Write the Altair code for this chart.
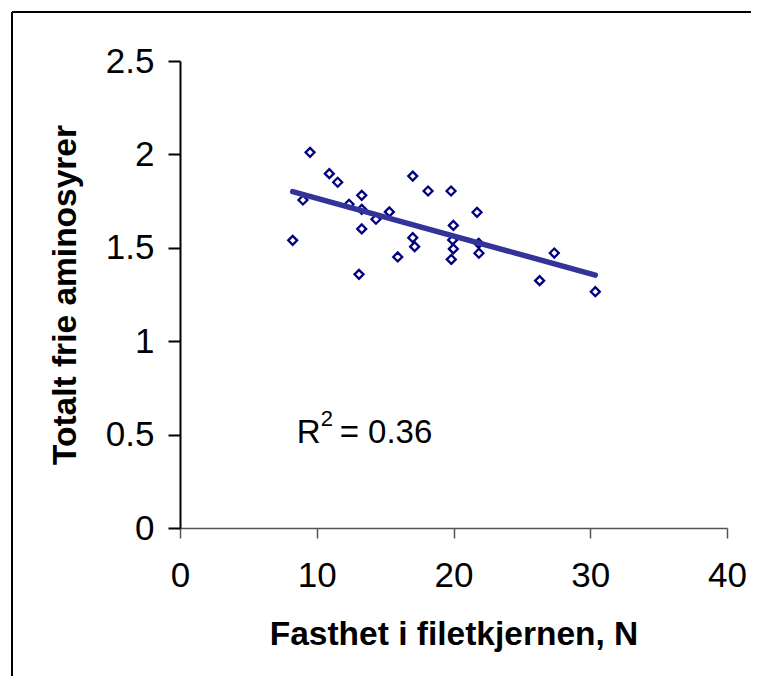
import altair as alt
import pandas as pd

# Firmness (N) and total free amino acids
fasthet = [9.51, 10.92, 11.53, 8.99, 8.24, 13.29, 12.36, 13.29, 14.33, 15.31,
           13.29, 13.09, 15.92, 17.02, 18.14, 19.82, 19.99, 17.02, 17.16, 19.94,
           19.99, 19.84, 21.72, 21.86, 21.84, 27.37, 26.30, 30.37]
aminosyrer = [2.011, 1.897, 1.851, 1.756, 1.540, 1.781, 1.733, 1.706, 1.653, 1.692,
              1.601, 1.358, 1.451, 1.884, 1.804, 1.804, 1.620, 1.554, 1.506, 1.542,
              1.494, 1.438, 1.690, 1.471, 1.524, 1.472, 1.324, 1.265]
x_ticks = [0, 10, 20, 30, 40]
y_ticks = [0, 0.5, 1, 1.5, 2, 2.5]
r2_text = ["R", "2", "= 0.36"]

df = pd.DataFrame({"x": fasthet, "y": aminosyrer})

xs = alt.Scale(domain=[0, 40], nice=False, zero=False)
ys = alt.Scale(domain=[0, 2.5], nice=False, zero=False)

x_axis = alt.Axis(values=x_ticks, title="Fasthet i filetkjernen, N", grid=False,
                  format="~g",
                  domainColor="#555555", domainWidth=1.5, tickColor="#555555",
                  tickWidth=1.5, tickSize=10, labelPadding=20, labelFontSize=35,
                  labelColor="black", titleFontSize=33.5, titleFontWeight="bold",
                  titleColor="black", titlePadding=25, labelFlush=False)
y_axis = alt.Axis(values=y_ticks, title="Totalt frie aminosyrer", grid=False,
                  format="~g",
                  domainColor="black", domainWidth=2, tickColor="black",
                  tickWidth=2, tickSize=12, labelPadding=14, labelFontSize=35,
                  labelColor="black", titleFontSize=33.5, titleFontWeight="bold",
                  titleColor="black", titleX=-105, titleY=233.5,
                  titleBaseline="alphabetic", titleAngle=-90, labelFlush=False)

points = alt.Chart(df).mark_point(shape="diamond", filled=False, color="#000080",
                                  size=80, strokeWidth=2.3, opacity=1).encode(
    x=alt.X("x:Q", scale=xs, axis=x_axis),
    y=alt.Y("y:Q", scale=ys, axis=y_axis),
)

line = alt.Chart(df).transform_regression("x", "y").mark_line(
    color="#333399", strokeWidth=5.5, strokeCap="round").encode(
    x=alt.X("x:Q", scale=xs), y=alt.Y("y:Q", scale=ys))

tdf = pd.DataFrame({"x": [8.53], "y": [0.453]})
t_r = alt.Chart(tdf).mark_text(text=r2_text[0], fontSize=33, align="left",
                               baseline="alphabetic", color="black").encode(
    x=alt.X("x:Q", scale=xs), y=alt.Y("y:Q", scale=ys))
t_2 = alt.Chart(tdf).mark_text(text=r2_text[1], fontSize=22, align="left",
                               baseline="alphabetic", color="black", dx=24, dy=-17).encode(
    x=alt.X("x:Q", scale=xs), y=alt.Y("y:Q", scale=ys))
t_eq = alt.Chart(tdf).mark_text(text=r2_text[2], fontSize=33, align="left",
                                baseline="alphabetic", color="black", dx=43).encode(
    x=alt.X("x:Q", scale=xs), y=alt.Y("y:Q", scale=ys))

frame = alt.Data(values=[{"a": 1}])
border_top = alt.Chart(frame).mark_rule(color="black", strokeWidth=2).encode(
    x=alt.value(-168), x2=alt.value(571), y=alt.value(-49))
border_left = alt.Chart(frame).mark_rule(color="black", strokeWidth=2).encode(
    x=alt.value(-168), y=alt.value(-49), y2=alt.value(615))

chart = alt.layer(border_top, border_left, points, line, t_r, t_2, t_eq).properties(
    width=547, height=467,
    padding={"left": 172, "top": 53, "right": 24, "bottom": 148},
    autosize=alt.AutoSizeParams(type="none"),
).configure(font="Liberation Sans").configure_view(stroke=None)

chart.save("out.html", embed_options={"renderer": "svg", "actions": False})
